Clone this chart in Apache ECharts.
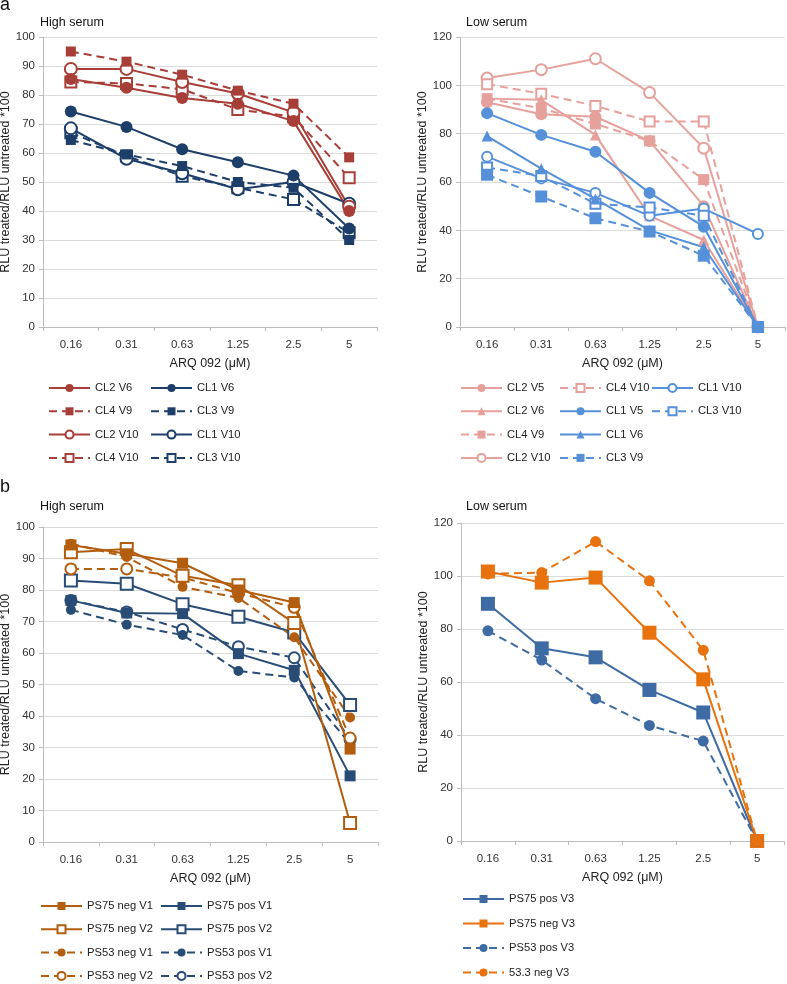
<!DOCTYPE html>
<html><head><meta charset="utf-8">
<script src="https://cdn.jsdelivr.net/npm/echarts@6.0.0/dist/echarts.min.js"></script>
<style>html,body{margin:0;padding:0;background:#fff}#c{width:787px;height:984px}</style>
</head><body><div id="c"></div>
<script>
// ---------- data ----------
const categories = ['0.16', '0.31', '0.63', '1.25', '2.5', '5'];
const yTicksA = [0, 100, 10];   // min, max, interval (high serum)
const yTicksB = [0, 120, 20];   // min, max, interval (low serum)

// panel a, high serum
const aH_CL2_V6  = [85.5, 82.5, 79, 77, 71, 40];
const aH_CL4_V9  = [95, 91.5, 87, 81.5, 77, 58.5];
const aH_CL2_V10 = [89, 89, 84.5, 80.5, 74, 41.5];
const aH_CL4_V10 = [84.5, 84, 82, 75, 72.5, 51.5];
const aH_CL1_V6  = [74.3, 69, 61.3, 56.8, 52.2, 34];
const aH_CL3_V9  = [64.5, 59.5, 55.5, 50, 48, 30];
const aH_CL1_V10 = [68.5, 58, 53, 47.5, 50, 42.5];
const aH_CL3_V10 = [67, 59, 52, 48, 44, 32.5];

// panel a, low serum
const aL_CL2_V5  = [93, 88, 87, 77, 50, 0];
const aL_CL2_V6  = [94.5, 94, 79.5, 46, 36, 0];
const aL_CL4_V9  = [94.5, 90.5, 84, 77, 61, 0];
const aL_CL2_V10 = [103, 106.5, 111, 97, 74, 0];
const aL_CL4_V10 = [100.5, 96.5, 91.5, 85, 85, 0];
const aL_CL1_V5  = [88.5, 79.5, 72.5, 55.5, 41.5, 0];
const aL_CL1_V6  = [79, 65.5, 53, 40, 33, 0];
const aL_CL3_V9  = [63, 54, 45, 39.5, 29.5, 0];
const aL_CL1_V10 = [70.5, 61.5, 55.5, 46, 49, 38.5];
const aL_CL3_V10 = [66, 62.5, 51, 49.5, 46, 0];

// panel b, high serum
const bH_PS75_neg_V1 = [94.3, 91.5, 88.5, 80, 76, 29.5];
const bH_PS75_neg_V2 = [92, 93, 84.5, 81.5, 69.5, 6];
const bH_PS53_neg_V1 = [94.7, 90.5, 81, 77.5, 65, 39.5];
const bH_PS53_neg_V2 = [86.7, 86.7, 84, 79, 74.5, 33];
const bH_PS75_pos_V1 = [76.7, 72.7, 72.5, 59.8, 54.5, 21];
const bH_PS75_pos_V2 = [83, 82, 75.5, 71.5, 66.5, 43.5];
const bH_PS53_pos_V1 = [73.7, 69, 65.7, 54.3, 52.2, 31.2];
const bH_PS53_pos_V2 = [76.7, 73, 67.5, 62, 58.5, 32.5];

// panel b, low serum
const bL_PS75_pos_V3 = [89.5, 72.7, 69.3, 57, 48.5, 0];
const bL_PS75_neg_V3 = [101.7, 97.5, 99.4, 78.6, 61, 0];
const bL_PS53_pos_V3 = [79.3, 68.3, 53.7, 43.6, 37.7, 0];
const bL_533_neg_V3  = [100.8, 101.3, 113, 98.2, 72, 0];

// ---------- styling ----------
const FONT = 'Liberation Sans, Arial, sans-serif';
const C = {
  aRed: '#A83E38', aBlue: '#1E3E6A',
  aPink: '#E6A19C', aLBlue: '#5590D9',
  bBrown: '#B35D0E', bNavy: '#284C76',
  bOrange: '#E8720E', bBlue: '#3E6BA3'
};

function mk(gi, name, data, color, symbol, dashed, size) {
  const open = symbol.indexOf('empty') === 0;
  return {
    name: name, type: 'line', xAxisIndex: gi, yAxisIndex: gi, data: data,
    symbol: symbol, symbolSize: size, showAllSymbol: true,
    lineStyle: { color: color, width: 2, type: dashed ? [8, 5] : 'solid' },
    itemStyle: { color: color, borderColor: color, borderWidth: open ? 1.5 : 0 },
    emphasis: { disabled: true }, silent: true
  };
}

const series = [
  // a high
  mk(0, 'aH|CL3 V10', aH_CL3_V10, C.aBlue, 'emptyRect', true, 11),
  mk(0, 'aH|CL1 V10', aH_CL1_V10, C.aBlue, 'emptyCircle', false, 12),
  mk(0, 'aH|CL3 V9', aH_CL3_V9, C.aBlue, 'rect', true, 10),
  mk(0, 'aH|CL1 V6', aH_CL1_V6, C.aBlue, 'circle', false, 12),
  mk(0, 'aH|CL4 V10', aH_CL4_V10, C.aRed, 'emptyRect', true, 11),
  mk(0, 'aH|CL2 V10', aH_CL2_V10, C.aRed, 'emptyCircle', false, 12),
  mk(0, 'aH|CL2 V6', aH_CL2_V6, C.aRed, 'circle', false, 12),
  mk(0, 'aH|CL4 V9', aH_CL4_V9, C.aRed, 'rect', true, 10),
  // a low
  mk(1, 'aL|CL2 V10', aL_CL2_V10, C.aPink, 'emptyCircle', false, 11),
  mk(1, 'aL|CL4 V10', aL_CL4_V10, C.aPink, 'emptyRect', true, 10),
  mk(1, 'aL|CL4 V9', aL_CL4_V9, C.aPink, 'rect', true, 11),
  mk(1, 'aL|CL2 V6', aL_CL2_V6, C.aPink, 'triangle', false, 11),
  mk(1, 'aL|CL2 V5', aL_CL2_V5, C.aPink, 'circle', false, 12),
  mk(1, 'aL|CL1 V10', aL_CL1_V10, C.aLBlue, 'emptyCircle', false, 10),
  mk(1, 'aL|CL3 V10', aL_CL3_V10, C.aLBlue, 'emptyRect', true, 10),
  mk(1, 'aL|CL3 V9', aL_CL3_V9, C.aLBlue, 'rect', true, 12),
  mk(1, 'aL|CL1 V6', aL_CL1_V6, C.aLBlue, 'triangle', false, 11),
  mk(1, 'aL|CL1 V5', aL_CL1_V5, C.aLBlue, 'circle', false, 12),
  // b high
  mk(2, 'bH|PS53 pos V2', bH_PS53_pos_V2, C.bNavy, 'emptyCircle', true, 11),
  mk(2, 'bH|PS53 pos V1', bH_PS53_pos_V1, C.bNavy, 'circle', true, 10),
  mk(2, 'bH|PS75 pos V2', bH_PS75_pos_V2, C.bNavy, 'emptyRect', false, 12),
  mk(2, 'bH|PS75 pos V1', bH_PS75_pos_V1, C.bNavy, 'rect', false, 11),
  mk(2, 'bH|PS53 neg V2', bH_PS53_neg_V2, C.bBrown, 'emptyCircle', true, 11),
  mk(2, 'bH|PS53 neg V1', bH_PS53_neg_V1, C.bBrown, 'circle', true, 10),
  mk(2, 'bH|PS75 neg V2', bH_PS75_neg_V2, C.bBrown, 'emptyRect', false, 12),
  mk(2, 'bH|PS75 neg V1', bH_PS75_neg_V1, C.bBrown, 'rect', false, 11),
  // b low
  mk(3, 'bL|PS75 pos V3', bL_PS75_pos_V3, C.bBlue, 'rect', false, 14),
  mk(3, 'bL|PS75 neg V3', bL_PS75_neg_V3, C.bOrange, 'rect', false, 14),
  mk(3, 'bL|PS53 pos V3', bL_PS53_pos_V3, C.bBlue, 'circle', true, 11),
  mk(3, 'bL|53.3 neg V3', bL_533_neg_V3, C.bOrange, 'circle', true, 11)
];

const grids = [
  { left: 43, top: 37, width: 334, height: 290 },
  { left: 460, top: 37, width: 325, height: 290 },
  { left: 43, top: 527, width: 335, height: 315 },
  { left: 461, top: 523, width: 323, height: 318 }
];
const yNameGap = [28, 29, 29, 30];
const yCfg = [yTicksA, yTicksB, yTicksA, yTicksB];

const xAxes = grids.map((g, i) => ({
  type: 'category', gridIndex: i, data: categories, boundaryGap: true,
  name: 'ARQ 092 (μM)', nameLocation: 'middle', nameGap: 30,
  nameTextStyle: { fontSize: 12.5, color: '#222', fontFamily: FONT },
  axisLine: { show: true, lineStyle: { color: '#BDBDBD', width: 1 } },
  axisTick: { show: true, alignWithLabel: false, length: 4, lineStyle: { color: '#BDBDBD' } },
  axisLabel: { fontSize: 11.5, color: '#333', fontFamily: FONT, margin: 12, interval: 0 },
  splitLine: { show: false }
}));
const yAxes = grids.map((g, i) => ({
  type: 'value', gridIndex: i, min: yCfg[i][0], max: yCfg[i][1], interval: yCfg[i][2],
  name: 'RLU treated/RLU untreated *100', nameLocation: 'middle', nameRotate: 90,
  nameGap: yNameGap[i],
  nameTextStyle: { fontSize: 12.5, color: '#222', fontFamily: FONT },
  axisLine: { show: true, lineStyle: { color: '#BDBDBD', width: 1 } },
  axisTick: { show: true, length: 4, lineStyle: { color: '#BDBDBD' } },
  axisLabel: { fontSize: 11.5, color: '#333', fontFamily: FONT, margin: 8 },
  splitLine: { show: true, lineStyle: { color: '#DCDCDC', width: 1 } }
}));

function lg(left, top, names, gap) {
  return {
    left: left, top: top, orient: 'vertical', padding: 0, itemGap: gap,
    itemWidth: 41, itemHeight: 10, data: names, selectedMode: false,
    formatter: n => n.split('|')[1],
    textStyle: { fontSize: 11.2, color: '#222', fontFamily: FONT, lineHeight: 14 }
  };
}

const legends = [
  lg(48, 381, ['aH|CL2 V6', 'aH|CL4 V9', 'aH|CL2 V10', 'aH|CL4 V10'], 9.3),
  lg(150, 381, ['aH|CL1 V6', 'aH|CL3 V9', 'aH|CL1 V10', 'aH|CL3 V10'], 9.3),
  lg(460, 381, ['aL|CL2 V5', 'aL|CL2 V6', 'aL|CL4 V9', 'aL|CL2 V10'], 9.3),
  lg(559, 381, ['aL|CL4 V10', 'aL|CL1 V5', 'aL|CL1 V6', 'aL|CL3 V9'], 9.3),
  lg(651, 381, ['aL|CL1 V10', 'aL|CL3 V10'], 9.3),
  lg(40, 899, ['bH|PS75 neg V1', 'bH|PS75 neg V2', 'bH|PS53 neg V1', 'bH|PS53 neg V2'], 9.3),
  lg(160, 899, ['bH|PS75 pos V1', 'bH|PS75 pos V2', 'bH|PS53 pos V1', 'bH|PS53 pos V2'], 9.3),
  lg(462, 892, ['bL|PS75 pos V3', 'bL|PS75 neg V3', 'bL|PS53 pos V3', 'bL|53.3 neg V3'], 10.5)
];

function txt(x, y, s, size) {
  return { type: 'text', left: x, top: y, silent: true,
    style: { text: s, fill: '#111', font: size + 'px ' + FONT } };
}

const chart = echarts.init(document.getElementById('c'), null, { renderer: 'canvas' });
chart.setOption({
  animation: false,
  backgroundColor: '#fff',
  grid: grids.map(g => Object.assign({ containLabel: false, outerBoundsMode: 'none' }, g)),
  xAxis: xAxes,
  yAxis: yAxes,
  legend: legends,
  series: series,
  graphic: [
    txt(0, -4, 'a', 18),
    txt(0, 478, 'b', 18),
    txt(40, 16, 'High serum', 12.5),
    txt(466, 16, 'Low serum', 12.5),
    txt(40, 500, 'High serum', 12.5),
    txt(466, 500, 'Low serum', 12.5)
  ]
});
</script></body></html>
